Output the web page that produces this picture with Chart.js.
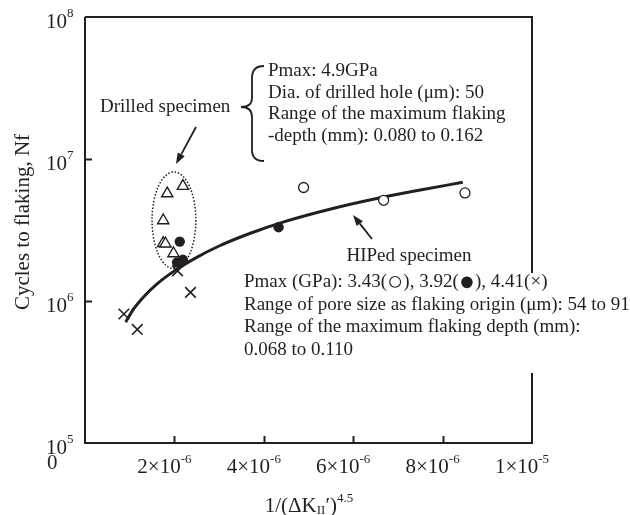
<!DOCTYPE html>
<html>
<head>
<meta charset="utf-8">
<script src="https://cdn.jsdelivr.net/npm/chart.js@4.4.1/dist/chart.umd.min.js"></script>
<style>
  body { margin: 0; background: #fff; }
  canvas { display: block; }
</style>
</head>
<body>
<canvas id="grafico" width="630" height="515"></canvas>
<script>
// valori
const openX = [4.89e-6, 6.68e-6, 8.50e-6];          // Pmax 3.43 GPa
const openY = [6.3e6, 5.12e6, 5.77e6];
const fullX = [2.12e-6, 2.19e-6, 2.06e-6, 4.33e-6];  // Pmax 3.92 GPa
const fullY = [2.62e6, 1.95e6, 1.87e6, 3.31e6];
const crossX = [2.07e-6, 2.36e-6, 0.87e-6, 1.17e-6]; // Pmax 4.41 GPa
const crossY = [1.63e6, 1.15e6, 8.1e5, 6.3e5];
const triX = [1.84e-6, 2.19e-6, 1.75e-6, 1.75e-6, 1.80e-6, 1.98e-6]; // drilled
const triY = [5.71e6, 6.44e6, 3.69e6, 2.55e6, 2.53e6, 2.16e6];
const curveX = [0.91e-6, 1.1e-6, 1.3e-6, 1.6e-6, 2.0e-6, 2.5e-6, 3.0e-6, 3.7e-6, 4.5e-6, 5.5e-6, 6.5e-6, 7.5e-6, 8.45e-6];
const curveY = [7.1e5, 8.9e5, 1.06e6, 1.31e6, 1.63e6, 2.03e6, 2.44e6, 3.0e6, 3.65e6, 4.45e6, 5.25e6, 6.05e6, 6.85e6];

const xTicks = [2e-6, 4e-6, 6e-6, 8e-6, 1e-5];
const xTickBase = ['2\u00d710', '4\u00d710', '6\u00d710', '8\u00d710', '1\u00d710'];
const xTickExp = ['-6', '-6', '-6', '-6', '-5'];
const yTicks = [1e5, 1e6, 1e7, 1e8];
const yTickExp = ['5', '6', '7', '8'];

const nero = '#231f20';
const serif = '"Liberation Serif", "Times New Roman", serif';

function punti(xs, ys) {
    return xs.map((x, i) => ({ x: x, y: ys[i] }));
}

// disegna testo con apice / pedice, pezzo per pezzo
function testoComposto(ctx, parti, x, y, allinea) {
    let larg = 0;
    parti.forEach(p => { ctx.font = p.size + 'px ' + serif; larg += ctx.measureText(p.t).width; });
    let cx = allinea === 'center' ? x - larg / 2 : x;
    ctx.textAlign = 'left';
    ctx.textBaseline = 'middle';
    parti.forEach(p => {
        ctx.font = p.size + 'px ' + serif;
        ctx.fillText(p.t, cx, y + (p.dy || 0));
        cx += ctx.measureText(p.t).width;
    });
}

function freccia(ctx, x1, y1, x2, y2) {
    let ang = Math.atan2(y2 - y1, x2 - x1);
    let lung = 11, semi = 4;
    let bx = x2 - lung * Math.cos(ang), by = y2 - lung * Math.sin(ang);
    ctx.beginPath();
    ctx.moveTo(x1, y1);
    ctx.lineTo(bx, by);
    ctx.lineWidth = 1.8;
    ctx.stroke();
    ctx.beginPath();
    ctx.moveTo(x2, y2);
    ctx.lineTo(bx + semi * Math.sin(ang), by - semi * Math.cos(ang));
    ctx.lineTo(bx - semi * Math.sin(ang), by + semi * Math.cos(ang));
    ctx.closePath();
    ctx.fill();
}

const decorazioni = {
    id: 'decorazioni',
    beforeDatasetsDraw(chart) {
        const ctx = chart.ctx;
        const sx = chart.scales.x, sy = chart.scales.y;
        // ellisse punteggiata attorno ai provini forati
        let cx = sx.getPixelForValue(1.99e-6);
        let top = sy.getPixelForValue(8.1e6), bot = sy.getPixelForValue(1.69e6);
        let rx = sx.getPixelForValue(2.48e-6) - cx;
        ctx.save();
        ctx.strokeStyle = nero;
        ctx.lineWidth = 1.5;
        ctx.setLineDash([1.5, 1.8]);
        ctx.beginPath();
        ctx.ellipse(cx, (top + bot) / 2, rx, (bot - top) / 2, 0, 0, Math.PI * 2);
        ctx.stroke();
        ctx.restore();
    },
    afterDraw(chart) {
        const ctx = chart.ctx;
        const a = chart.chartArea;
        const sx = chart.scales.x, sy = chart.scales.y;
        ctx.save();
        ctx.strokeStyle = nero;
        ctx.fillStyle = nero;
        ctx.lineWidth = 2;

        // cornice (il bordo destro e' interrotto dal testo)
        ctx.beginPath();
        ctx.moveTo(a.left, a.top); ctx.lineTo(a.left, a.bottom);
        ctx.lineTo(a.right, a.bottom); ctx.lineTo(a.right, 373);
        ctx.moveTo(a.right, 273); ctx.lineTo(a.right, a.top); ctx.lineTo(a.left, a.top);
        ctx.stroke();

        // tacche interne
        ctx.beginPath();
        xTicks.forEach(v => {
            if (v >= 1e-5) return;
            let px = Math.round(sx.getPixelForValue(v)) + 0.5;
            ctx.moveTo(px, a.bottom); ctx.lineTo(px, a.bottom - 7);
        });
        [1e6, 1e7].forEach(v => {
            let py = Math.round(sy.getPixelForValue(v)) + 0.5;
            ctx.moveTo(a.left, py); ctx.lineTo(a.left + 7, py);
        });
        ctx.stroke();

        // etichette asse y
        yTicks.forEach((v, i) => {
            let py = sy.getPixelForValue(v);
            testoComposto(ctx, [{ t: '10', size: 21 }, { t: yTickExp[i], size: 13, dy: -8 }], 46, py + 5, 'left');
        });
        testoComposto(ctx, [{ t: '0', size: 21 }], 47, 463, 'left');

        // etichette asse x
        xTicks.forEach((v, i) => {
            let px = sx.getPixelForValue(v);
            testoComposto(ctx, [{ t: xTickBase[i], size: 21 }, { t: xTickExp[i], size: 13, dy: -7 }], px - 10, 467, 'center');
        });

        // titoli assi
        testoComposto(ctx, [
            { t: '1/(\u0394K', size: 21 }, { t: 'II', size: 13, dy: 5 },
            { t: '\u2032)', size: 21 }, { t: '4.5', size: 13, dy: -7 }
        ], 309, 506, 'center');
        ctx.save();
        ctx.translate(23, 222);
        ctx.rotate(-Math.PI / 2);
        testoComposto(ctx, [{ t: 'Cycles to flaking, Nf', size: 21 }], 0, 0, 'center');
        ctx.restore();

        // annotazioni provini forati
        testoComposto(ctx, [{ t: 'Drilled specimen', size: 19 }], 100, 107, 'left');
        const righeForati = ['Pmax: 4.9GPa', 'Dia. of drilled hole (\u03bcm): 50',
            'Range of the maximum flaking', '-depth (mm): 0.080 to 0.162'];
        righeForati.forEach((r, i) => testoComposto(ctx, [{ t: r, size: 19 }], 268, 71.5 + i * 21.5, 'left'));

        // graffa
        ctx.lineWidth = 1.8;
        ctx.beginPath();
        ctx.moveTo(264, 66);
        ctx.quadraticCurveTo(252, 66, 252, 78);
        ctx.lineTo(252, 98);
        ctx.quadraticCurveTo(252, 107, 241, 107);
        ctx.quadraticCurveTo(252, 107, 252, 117);
        ctx.lineTo(252, 150);
        ctx.quadraticCurveTo(252, 161, 264, 161);
        ctx.stroke();

        freccia(ctx, 196, 127, 176, 164);

        // annotazioni provini HIP
        testoComposto(ctx, [{ t: 'HIPed specimen', size: 19 }], 409, 256, 'center');
        testoComposto(ctx, [
            { t: 'Pmax (GPa): 3.43(', size: 19 }, { t: '\u25cb', size: 27, dy: 1 },
            { t: '), 3.92(', size: 19 }, { t: '\u25cf', size: 27, dy: 1 },
            { t: '), 4.41(\u00d7)', size: 19 }
        ], 244, 282, 'left');
        const righeHip = ['Range of pore size as flaking origin (\u03bcm): 54 to 91',
            'Range of the maximum flaking depth (mm):', '0.068 to 0.110'];
        righeHip.forEach((r, i) => testoComposto(ctx, [{ t: r, size: 19 }], 244, 305 + i * 22.5, 'left'));

        freccia(ctx, 372, 239, 353, 215);
        ctx.restore();
    }
};

const config = {
    type: 'scatter',
    data: {
        datasets: [
            {
                label: '3.43 GPa', data: punti(openX, openY),
                pointStyle: 'circle', pointRadius: 5, pointBackgroundColor: '#fff',
                pointBorderColor: nero, pointBorderWidth: 1.3
            },
            {
                label: '3.92 GPa', data: punti(fullX, fullY),
                pointStyle: 'circle', pointRadius: 5.2, pointBackgroundColor: nero,
                pointBorderColor: nero, pointBorderWidth: 0
            },
            {
                label: '4.41 GPa', data: punti(crossX, crossY),
                pointStyle: 'crossRot', pointRadius: 7.5,
                pointBorderColor: nero, pointBorderWidth: 1.6
            },
            {
                label: 'Drilled', data: punti(triX, triY),
                pointStyle: 'triangle', pointRadius: 6.5, pointBackgroundColor: '#fff',
                pointBorderColor: nero, pointBorderWidth: 1.4
            },
            {
                label: 'Fit', data: punti(curveX, curveY),
                showLine: true, pointRadius: 0, borderColor: nero, borderWidth: 3,
                cubicInterpolationMode: 'monotone'
            }
        ]
    },
    options: {
        responsive: false,
        animation: false,
        layout: { padding: { left: 85, top: 17, right: 98, bottom: 72 } },
        plugins: { legend: { display: false }, tooltip: { enabled: false } },
        scales: {
            x: { type: 'linear', min: 0, max: 1e-5, display: false },
            y: { type: 'logarithmic', min: 1e5, max: 1e8, display: false }
        }
    },
    plugins: [decorazioni]
};

let ctx = document.getElementById('grafico').getContext('2d');
new Chart(ctx, config);
</script>
</body>
</html>
